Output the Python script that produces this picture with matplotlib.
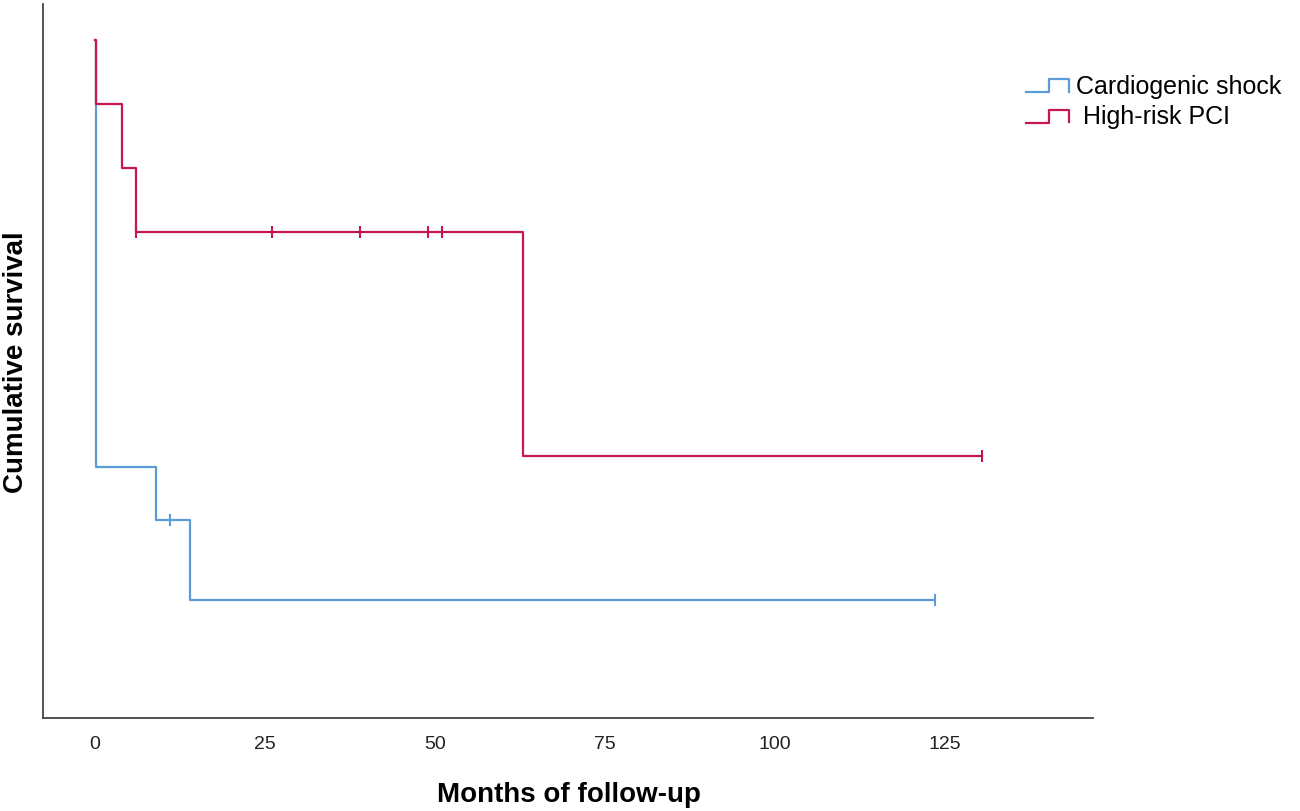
import numpy as np
import matplotlib
matplotlib.use("Agg")
from matplotlib import pyplot as plt
from matplotlib.lines import Line2D
from matplotlib.legend_handler import HandlerBase

plt.rcParams['font.family'] = ['Liberation Sans', 'DejaVu Sans']

# follow-up data (months), event = 1 death, 0 censored
pci_time = [0.2, 4, 6, 6, 26, 39, 49, 51, 63, 130.5]
pci_event = [1, 1, 1, 0, 0, 0, 0, 0, 1, 0]
shock_time = [0.2, 0.2, 0.2, 0.2, 0.2, 0.2, 0.2, 0.2, 9, 11, 14, 123.5]
shock_event = [1, 1, 1, 1, 1, 1, 1, 1, 1, 0, 1, 0]

groups = ["Cardiogenic shock", " High-risk PCI"]
colors = ["#5b9bd8", "#c8174c"]
xticks = [0, 25, 50, 75, 100, 125]


def km(times, events):
    t = np.array(times, float)
    e = np.array(events)
    xs, ys = [0.0], [1.0]
    cx, cy = [], []
    s = 1.0
    at_risk = len(t)
    for u in np.unique(t):
        d = int(((t == u) & (e == 1)).sum())
        c = int(((t == u) & (e == 0)).sum())
        if d:
            s *= 1 - d / at_risk
            xs.append(u)
            ys.append(s)
        if c:
            cx.append(u)
            cy.append(s)
        at_risk -= d + c
    xs.append(max(t))
    ys.append(s)
    return xs, ys, cx, cy


class StepHandler(HandlerBase):
    def create_artists(self, legend, orig_handle, xdescent, ydescent,
                       width, height, fontsize, trans):
        w, h = width, height
        x = np.array([0, 0.53 * w, 0.53 * w, w, w]) - xdescent
        y = np.array([0.1 * h, 0.1 * h, 0.85 * h, 0.85 * h, 0.15 * h]) - ydescent
        ln = Line2D(x, y, color=orig_handle.get_color(), lw=1.6, transform=trans)
        return [ln]


fig = plt.figure(figsize=(13, 8.11), dpi=100)
ax = fig.add_axes([0.0331, 0.1147, 0.8077, 0.8803])

handles = []
for (tt, ee), col in zip([(shock_time, shock_event), (pci_time, pci_event)], colors):
    xs, ys, cx, cy = km(tt, ee)
    ln, = ax.step(xs, ys, where='post', color=col, lw=1.6)
    ax.plot(cx, cy, ls='none', marker='|', ms=9, mew=1.5, color=col)
    handles.append(ln)

ax.set_xlim(-7.6, 146.8)
ax.set_ylim(-0.059, 1.056)
ax.set_xticks(xticks)
ax.set_xticklabels([str(v) for v in xticks])
ax.set_yticks([])
ax.tick_params(axis='x', length=0, labelsize=14, pad=13, colors='#222222')
for sp in ['top', 'right']:
    ax.spines[sp].set_visible(False)
for sp in ['left', 'bottom']:
    ax.spines[sp].set_color('#444444')
    ax.spines[sp].set_linewidth(1.3)

fig.text(0.438, 0.02, "Months of follow-up", ha='center', va='center',
         fontsize=20, fontweight='bold')
fig.text(0.012, 0.553, "Cumulative survival", ha='center', va='center',
         rotation=90, fontsize=20, fontweight='bold')

fig.legend(handles, groups, handler_map={Line2D: StepHandler()},
           loc='upper left', bbox_to_anchor=(0.772, 0.935), frameon=False,
           fontsize=18, handlelength=1.7, handletextpad=0.3, labelspacing=0.25)

fig.savefig("out.png", dpi=100, facecolor='white')
